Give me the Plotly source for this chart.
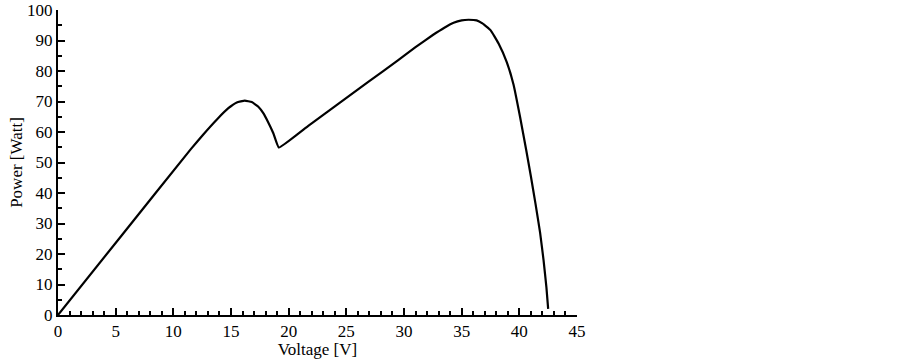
import plotly.graph_objects as go

voltage = [0, 5.5, 11.5, 12.6, 13.8, 14.77, 15.5, 16.2, 16.8, 17.37, 17.8, 18.2, 18.67, 19.15,
           21.7, 24.3, 26.9, 29.5, 31.0, 32.5, 33.5, 34.3, 35.0, 35.6, 36.3, 36.8, 37.5, 38.2, 38.9, 39.5, 40.06,
           40.6, 41.0, 41.4, 41.8, 42.1, 42.35, 42.5]
power = [0, 26.0, 54.3, 59.2, 64.2, 67.8, 69.7, 70.3, 69.8, 68.3, 66.2, 63.4, 59.6, 54.9,
         62.0, 69.2, 76.4, 83.6, 87.8, 91.8, 94.2, 95.8, 96.6, 96.8, 96.6, 95.6, 93.4, 89.0, 83.0, 75.5, 65.0,
         54.0, 45.5, 36.5, 27.0, 18.0, 9.0, 2.0]

xticks = [0, 5, 10, 15, 20, 25, 30, 35, 40, 45]
yticks = [0, 10, 20, 30, 40, 50, 60, 70, 80, 90, 100]

fig = go.Figure(go.Scatter(x=voltage, y=power, mode="lines",
                           line=dict(color="black", width=2.2, shape="spline", smoothing=0.3)))

font = dict(family="Liberation Serif, Times New Roman, serif", size=17, color="black")
axis_common = dict(showgrid=False, zeroline=False, showline=True, linecolor="black", linewidth=2,
                   ticks="inside", ticklen=7, tickwidth=2, tickcolor="black",
                   tickfont=font, automargin=False)
fig.update_layout(
    width=902, height=359,
    margin=dict(l=58, r=325, t=10, b=44),
    paper_bgcolor="white", plot_bgcolor="white",
    showlegend=False,
    font=font,
    xaxis=dict(range=[0, 45], tickvals=xticks, ticktext=[str(v) for v in xticks],
               title=dict(text="Voltage [V]", standoff=2, font=font),
               minor=dict(dtick=1, tick0=0, ticks="inside", ticklen=4, tickwidth=1.5, tickcolor="black"),
               **axis_common),
    yaxis=dict(range=[0, 100], tickvals=yticks, ticktext=[str(v) for v in yticks],
               title=dict(text="Power [Watt]", standoff=0, font=font),
               minor=dict(dtick=5, tick0=0, ticks="inside", ticklen=4, tickwidth=1.5, tickcolor="black"),
               **axis_common),
)
fig.write_html("out.html", config={"displayModeBar": False},
               post_script="document.body.style.margin='0';document.body.style.overflow='hidden';")
